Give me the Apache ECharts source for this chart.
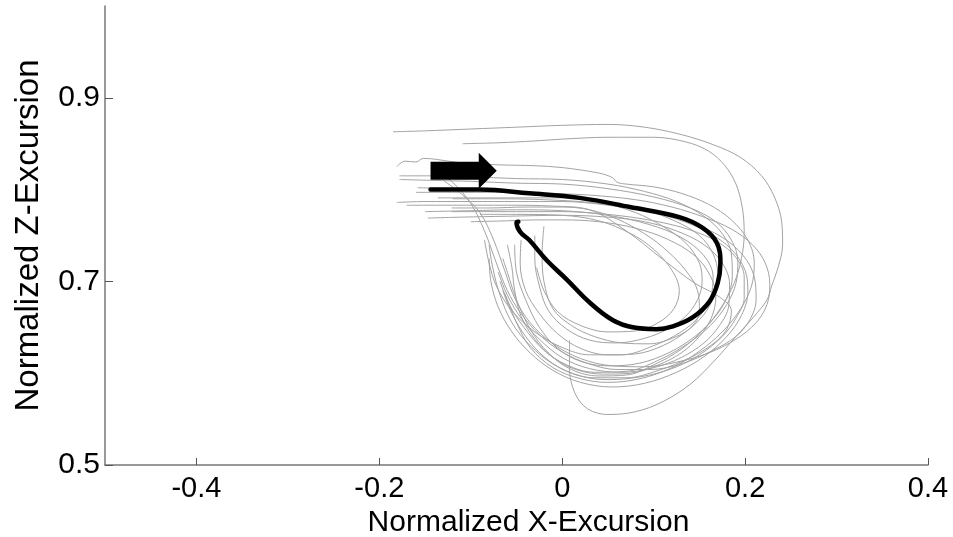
<!DOCTYPE html>
<html>
<head>
<meta charset="utf-8">
<script src="https://cdn.jsdelivr.net/npm/echarts@6/dist/echarts.min.js"></script>
<style>html,body{margin:0;padding:0;background:#fff}#c{width:953px;height:537px}</style>
</head>
<body>
<div id="c"></div>
<script>
var xTicks = [-0.4, -0.2, 0, 0.2, 0.4];
var yTicks = [0.5, 0.7, 0.9];

var trial1 = [[-0.185,0.863],[-0.15,0.864],[-0.10,0.866],[-0.05,0.868],[0.0,0.870],[0.05,0.871],[0.09,0.868],[0.13,0.860],[0.165,0.849],[0.195,0.835],[0.218,0.815],[0.232,0.792],[0.240,0.765],[0.241,0.740],[0.236,0.715],[0.229,0.695],[0.224,0.680],[0.21,0.662],[0.19,0.640],[0.165,0.612],[0.14,0.588],[0.11,0.569],[0.08,0.558],[0.05,0.555],[0.028,0.561],[0.014,0.578],[0.008,0.605],[0.008,0.636]];
var trial2 = [[-0.109,0.850],[-0.07,0.851],[-0.03,0.853],[0.0,0.855],[0.05,0.857],[0.10,0.857],[0.135,0.852],[0.16,0.842],[0.178,0.826],[0.19,0.806],[0.197,0.780],[0.199,0.752],[0.196,0.725],[0.188,0.698],[0.174,0.672],[0.155,0.648],[0.13,0.626],[0.10,0.609],[0.07,0.598],[0.04,0.597],[0.01,0.604],[-0.015,0.622],[-0.035,0.648],[-0.05,0.68],[-0.06,0.71],[-0.065,0.725]];
var trial3 = [[-0.181,0.825],[-0.172,0.831],[-0.160,0.830],[-0.152,0.834],[-0.138,0.833],[-0.11,0.829],[-0.07,0.827],[-0.03,0.826],[0.0,0.824],[0.04,0.818],[0.055,0.813],[0.06,0.808],[0.07,0.806],[0.10,0.803],[0.13,0.796],[0.16,0.784],[0.185,0.767],[0.203,0.745],[0.21,0.72],[0.207,0.695],[0.195,0.67],[0.175,0.645],[0.15,0.624],[0.12,0.606],[0.085,0.594],[0.05,0.590],[0.02,0.594],[-0.01,0.606],[-0.035,0.628],[-0.05,0.655],[-0.06,0.68],[-0.063,0.687]];
var trial4 = [[-0.178,0.815],[-0.14,0.815],[-0.10,0.814],[-0.05,0.812],[0.0,0.811],[0.05,0.806],[0.09,0.798],[0.125,0.787],[0.155,0.771],[0.175,0.752],[0.185,0.73],[0.186,0.705],[0.18,0.682],[0.166,0.66],[0.145,0.64],[0.118,0.623],[0.085,0.611],[0.05,0.608],[0.02,0.613],[-0.005,0.627],[-0.025,0.65],[-0.04,0.68],[-0.05,0.71],[-0.052,0.74]];
var trial5 = [[-0.178,0.811],[-0.14,0.810],[-0.10,0.809],[-0.05,0.807],[0.0,0.806],[0.05,0.801],[0.10,0.792],[0.14,0.780],[0.168,0.765],[0.185,0.745],[0.192,0.722],[0.19,0.698],[0.18,0.675],[0.162,0.652],[0.137,0.632],[0.105,0.614],[0.07,0.602],[0.035,0.601],[0.005,0.609],[-0.02,0.625],[-0.042,0.65],[-0.058,0.675],[-0.068,0.70]];
var trial6 = [[-0.158,0.802],[-0.12,0.801],[-0.08,0.799],[-0.04,0.797],[0.0,0.794],[0.04,0.787],[0.08,0.775],[0.11,0.76],[0.135,0.742],[0.15,0.72],[0.153,0.70],[0.148,0.68],[0.135,0.662],[0.115,0.648],[0.09,0.638],[0.06,0.633],[0.03,0.636],[0.005,0.648],[-0.015,0.668],[-0.025,0.695],[-0.03,0.725],[-0.03,0.75]];
var trial7 = [[-0.136,0.791],[-0.10,0.791],[-0.05,0.791],[0.0,0.791],[0.05,0.786],[0.09,0.778],[0.125,0.765],[0.15,0.75],[0.165,0.73],[0.17,0.708],[0.166,0.685],[0.155,0.664],[0.135,0.645],[0.11,0.63],[0.08,0.621],[0.05,0.62],[0.02,0.627],[-0.005,0.643],[-0.025,0.665],[-0.04,0.69],[-0.046,0.72],[-0.045,0.745]];
var trial8 = [[-0.181,0.786],[-0.15,0.787],[-0.10,0.787],[-0.05,0.787],[0.0,0.787],[0.05,0.783],[0.10,0.775],[0.14,0.764],[0.175,0.748],[0.198,0.728],[0.21,0.705],[0.212,0.68],[0.205,0.658],[0.19,0.64],[0.165,0.625],[0.13,0.61],[0.095,0.604],[0.06,0.604],[0.03,0.61],[0.0,0.623],[-0.025,0.642],[-0.045,0.665],[-0.06,0.69],[-0.072,0.72],[-0.085,0.755],[-0.10,0.785],[-0.12,0.808],[-0.14,0.822]];
var trial9 = [[-0.121,0.780],[-0.08,0.780],[-0.04,0.781],[0.0,0.781],[0.03,0.778],[0.06,0.768],[0.09,0.752],[0.115,0.733],[0.135,0.712],[0.148,0.69],[0.15,0.668],[0.143,0.652],[0.125,0.64],[0.095,0.632],[0.065,0.633],[0.035,0.64],[0.01,0.652],[-0.01,0.67],[-0.02,0.70],[-0.022,0.73],[-0.02,0.76]];
var trial10 = [[-0.121,0.776],[-0.08,0.776],[-0.04,0.776],[0.0,0.776],[0.05,0.773],[0.10,0.766],[0.14,0.756],[0.17,0.743],[0.19,0.726],[0.199,0.705],[0.199,0.682],[0.19,0.66],[0.175,0.64],[0.15,0.62],[0.12,0.605],[0.085,0.596],[0.05,0.593],[0.02,0.597],[-0.01,0.61],[-0.035,0.63],[-0.055,0.655],[-0.068,0.685],[-0.076,0.715],[-0.08,0.74]];
var trial11 = [[-0.147,0.769],[-0.11,0.770],[-0.06,0.771],[0.0,0.772],[0.05,0.77],[0.09,0.765],[0.125,0.755],[0.155,0.74],[0.175,0.72],[0.183,0.697],[0.182,0.673],[0.172,0.652],[0.155,0.633],[0.13,0.617],[0.1,0.606],[0.065,0.601],[0.03,0.605],[0.0,0.617],[-0.025,0.637],[-0.045,0.66],[-0.06,0.685],[-0.07,0.71]];
var trial12 = [[-0.10,0.765],[-0.06,0.766],[-0.03,0.767],[0.0,0.767],[0.04,0.765],[0.08,0.758],[0.115,0.746],[0.145,0.728],[0.162,0.706],[0.168,0.683],[0.163,0.66],[0.15,0.64],[0.13,0.622],[0.105,0.609],[0.075,0.6],[0.045,0.599],[0.015,0.604],[-0.01,0.617],[-0.03,0.637],[-0.045,0.662],[-0.052,0.69],[-0.055,0.715],[-0.06,0.74]];
var trial13 = [[-0.16,0.797],[-0.12,0.797],[-0.07,0.797],[-0.02,0.796],[0.03,0.794],[0.08,0.789],[0.12,0.781],[0.155,0.77],[0.185,0.757],[0.208,0.74],[0.222,0.72],[0.227,0.697],[0.224,0.675],[0.212,0.655],[0.19,0.637],[0.16,0.622],[0.125,0.612],[0.09,0.607],[0.055,0.608],[0.02,0.616],[-0.01,0.632],[-0.035,0.655],[-0.052,0.682],[-0.063,0.712],[-0.075,0.745],[-0.09,0.775],[-0.11,0.795],[-0.13,0.81]];
var trial14 = [[-0.17,0.783],[-0.12,0.783],[-0.06,0.783],[-0.01,0.782],[0.03,0.778],[0.07,0.755],[0.11,0.724],[0.145,0.698],[0.172,0.683],[0.185,0.668],[0.18,0.648],[0.165,0.632],[0.14,0.617],[0.105,0.603],[0.07,0.595],[0.035,0.595],[0.005,0.602],[-0.02,0.618],[-0.04,0.64],[-0.055,0.665],[-0.065,0.69]];
var trial15 = [[-0.15,0.776],[-0.10,0.777],[-0.05,0.778],[0.0,0.777],[0.05,0.772],[0.095,0.762],[0.13,0.748],[0.155,0.728],[0.165,0.705],[0.162,0.682],[0.15,0.662],[0.13,0.645],[0.10,0.63],[0.065,0.62],[0.03,0.62],[0.0,0.628],[-0.03,0.645],[-0.055,0.668],[-0.072,0.695],[-0.08,0.72],[-0.085,0.745]];
var trial16 = [[-0.12,0.790],[-0.07,0.790],[-0.02,0.789],[0.03,0.786],[0.08,0.779],[0.125,0.768],[0.16,0.753],[0.185,0.735],[0.2,0.712],[0.203,0.688],[0.196,0.663],[0.18,0.64],[0.155,0.618],[0.125,0.601],[0.09,0.589],[0.055,0.585],[0.02,0.59],[-0.01,0.603],[-0.035,0.622],[-0.055,0.645],[-0.07,0.672],[-0.078,0.70],[-0.08,0.725]];
var trial17 = [[-0.09,0.773],[-0.05,0.773],[0.0,0.772],[0.04,0.766],[0.075,0.752],[0.1,0.735],[0.12,0.712],[0.128,0.69],[0.122,0.67],[0.105,0.655],[0.08,0.646],[0.05,0.645],[0.02,0.652],[-0.005,0.667],[-0.02,0.69],[-0.028,0.715]];

var meanCurve = [[-0.144,0.800],[-0.090,0.800],[-0.036,0.796],[0.019,0.791],[0.074,0.781],[0.128,0.770],[0.154,0.758],[0.169,0.742],[0.173,0.720],[0.170,0.698],[0.161,0.678],[0.143,0.661],[0.121,0.651],[0.103,0.648],[0.077,0.650],[0.055,0.658],[0.030,0.677],[0.005,0.702],[-0.017,0.723],[-0.036,0.745],[-0.046,0.754],[-0.050,0.764],[-0.048,0.765]];

var arrowTail = [-0.144, 0.8204];
var arrowTip = [-0.0716, 0.8204];

var trials = [trial1,trial2,trial3,trial4,trial5,trial6,trial7,trial8,trial9,trial10,trial11,trial12,trial13,trial14,trial15,trial16,trial17];

var series = trials.map(function (t) {
  return {
    type: 'line', data: t, showSymbol: false, smooth: 0.35, silent: true,
    lineStyle: { color: '#a3a3a3', width: 1 }, z: 2
  };
});
series.push({
  type: 'line', data: meanCurve, showSymbol: false, smooth: 0.4, silent: true,
  lineStyle: { color: '#000', width: 4.5, cap: 'round', join: 'round' }, z: 5
});
series.push({
  type: 'custom', silent: true, z: 6,
  data: [[arrowTail[0], arrowTail[1], arrowTip[0], arrowTip[1]]],
  renderItem: function (params, api) {
    var a = api.coord([api.value(0), api.value(1)]);
    var b = api.coord([api.value(2), api.value(3)]);
    var bh = 9, hh = 18, hl = 18;
    var neck = b[0] - hl;
    return {
      type: 'polygon',
      shape: { points: [[a[0], a[1]-bh],[neck, a[1]-bh],[neck, b[1]-hh],[b[0], b[1]],[neck, b[1]+hh],[neck, a[1]+bh],[a[0], a[1]+bh]] },
      style: { fill: '#000' }
    };
  }
});

var font = 'Arial, "Liberation Sans", Helvetica, sans-serif';
var chart = echarts.init(document.getElementById('c'), null, { renderer: 'canvas' });
chart.setOption({
  animation: false,
  backgroundColor: '#fff',
  grid: { left: 105, top: 6, right: 25, bottom: 72, containLabel: false, outerBoundsMode: 'none' },
  xAxis: {
    type: 'value', min: -0.5, max: 0.4,
    name: 'Normalized X-Excursion', nameLocation: 'middle', nameGap: 34,
    nameTextStyle: { color: '#000', fontSize: 30, fontFamily: font, padding: [0, 0, 0, 24] },
    axisLine: { show: true, onZero: false, lineStyle: { color: '#777', width: 1.5 } },
    axisTick: { show: true, inside: true, length: 7, customValues: xTicks, lineStyle: { color: '#555' } },
    axisLabel: { customValues: xTicks, color: '#000', fontSize: 29, fontFamily: font, margin: 9 },
    splitLine: { show: false }
  },
  yAxis: {
    type: 'value', min: 0.5, max: 1.0,
    name: 'Normalized Z-Excursion', nameLocation: 'middle', nameGap: 60, nameRotate: 90,
    nameTextStyle: { color: '#000', fontSize: 33, fontFamily: font },
    axisLine: { show: true, onZero: false, lineStyle: { color: '#777', width: 1.5 } },
    axisTick: { show: true, inside: true, length: 8, customValues: yTicks, lineStyle: { color: '#555' } },
    axisLabel: { customValues: yTicks, color: '#000', fontSize: 30, fontFamily: font, margin: 5 },
    splitLine: { show: false }
  },
  series: series
});
</script>
</body>
</html>
